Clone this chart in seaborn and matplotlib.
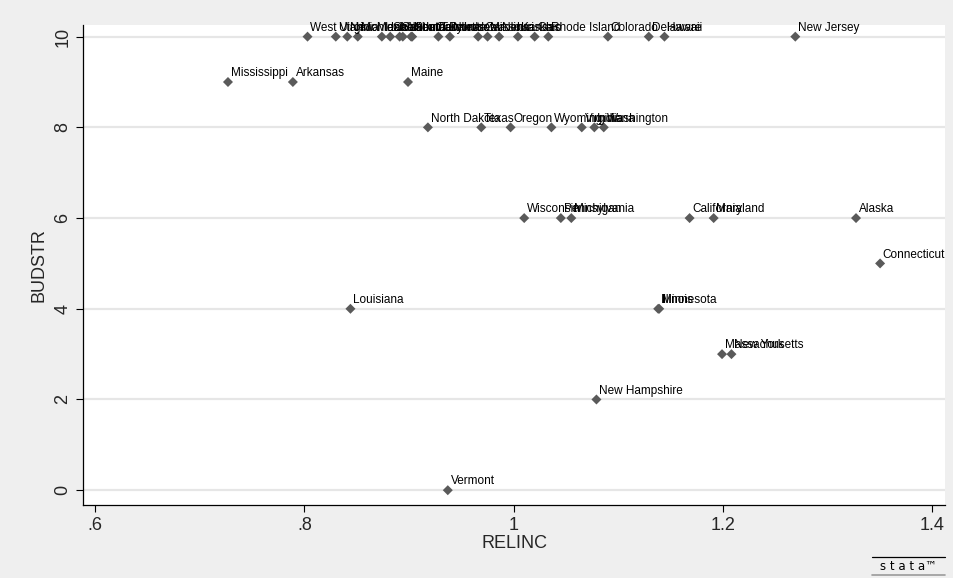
import matplotlib
matplotlib.use("Agg")
import matplotlib.pyplot as plt
from matplotlib.lines import Line2D
import pandas as pd
import seaborn as sns

# state names, relative income and budget stringency
states = [
    "West Virginia", "Utah", "New Mexico", "Montana", "Idaho", "Oklahoma",
    "South Carolina", "Alabama", "Kentucky", "South Dakota", "Tennessee",
    "North Carolina", "Iowa", "Missouri", "Nebraska", "Kansas", "Ohio",
    "Rhode Island", "Colorado", "Delaware", "Hawaii", "New Jersey",
    "Mississippi", "Arkansas", "Maine",
    "North Dakota", "Texas", "Oregon", "Wyoming", "Virginia", "Indiana", "Washington",
    "Wisconsin", "Pennsylvania", "Michigan", "California", "Maryland", "Alaska",
    "Connecticut",
    "Louisiana", "Illinois", "Minnesota",
    "Massachusetts", "New York",
    "New Hampshire",
    "Vermont",
]
relinc = [
    0.803, 0.830, 0.841, 0.851, 0.874, 0.882,
    0.891, 0.894, 0.902, 0.903, 0.928,
    0.939, 0.966, 0.975, 0.986, 1.004, 1.020,
    1.033, 1.090, 1.129, 1.144, 1.269,
    0.727, 0.789, 0.899,
    0.918, 0.969, 0.997, 1.036, 1.065, 1.077, 1.086,
    1.010, 1.045, 1.055, 1.168, 1.191, 1.327,
    1.350,
    0.844, 1.138, 1.139,
    1.199, 1.208,
    1.079,
    0.937,
]
budstr = [
    10, 10, 10, 10, 10, 10,
    10, 10, 10, 10, 10,
    10, 10, 10, 10, 10, 10,
    10, 10, 10, 10, 10,
    9, 9, 9,
    8, 8, 8, 8, 8, 8, 8,
    6, 6, 6, 6, 6, 6,
    5,
    4, 4, 4,
    3, 3,
    2,
    0,
]
x_ticks = [0.6, 0.8, 1.0, 1.2, 1.4]
x_tick_labels = [".6", ".8", "1", "1.2", "1.4"]
y_ticks = [0, 2, 4, 6, 8, 10]

df = pd.DataFrame({"state": states, "RELINC": relinc, "BUDSTR": budstr})

sns.set_style("white")
plt.rcParams["font.family"] = ["Liberation Sans", "DejaVu Sans"]

bg = "#efefef"
fig = plt.figure(figsize=(9.54, 5.78), dpi=100, facecolor=bg)
ax = fig.add_axes([0.087, 0.126, 0.904, 0.831])
ax.set_facecolor("white")

for yv in y_ticks:
    ax.axhline(yv, color="#e6e6e6", lw=1.6, zorder=0)

sns.scatterplot(data=df, x="RELINC", y="BUDSTR", marker="D", s=26,
                color="#5a5a5a", edgecolor="none", ax=ax, zorder=3)

for name, xv, yv in zip(df["state"], df["RELINC"], df["BUDSTR"]):
    ax.annotate(name, (xv, yv), xytext=(2, 2), textcoords="offset points",
                ha="left", va="bottom", fontsize=8.5, color="black", zorder=4)

ax.set_xlim(0.5885, 1.4124)
ax.set_ylim(-0.33, 10.26)
ax.set_xticks(x_ticks)
ax.set_xticklabels(x_tick_labels)
ax.set_yticks(y_ticks)
ax.set_yticklabels([str(v) for v in y_ticks], rotation=90, va="center")
ax.tick_params(axis="both", direction="out", length=5, width=0.8,
               labelsize=13, color="black", left=True, bottom=True)
ax.set_xlabel("RELINC", fontsize=13, labelpad=1)
ax.set_ylabel("BUDSTR", fontsize=13, labelpad=5)

for side in ["top", "right"]:
    ax.spines[side].set_visible(False)
for side in ["left", "bottom"]:
    ax.spines[side].set_color("black")
    ax.spines[side].set_linewidth(0.9)

# stata logo in the corner
fig.add_artist(Line2D([872 / 954, 945 / 954], [1 - 557 / 578, 1 - 557 / 578],
                      transform=fig.transFigure, color="black", lw=0.9))
fig.add_artist(Line2D([872 / 954, 945 / 954], [1 - 575 / 578, 1 - 575 / 578],
                      transform=fig.transFigure, color="#9a9a9a", lw=1.2))
fig.text(908 / 954, 1 - 567 / 578, "s t a t a\u2122", ha="center", va="center",
         fontsize=8.5, color="black", family=["DejaVu Sans", "Liberation Sans"])

fig.savefig("out.png", dpi=100, facecolor=bg)
